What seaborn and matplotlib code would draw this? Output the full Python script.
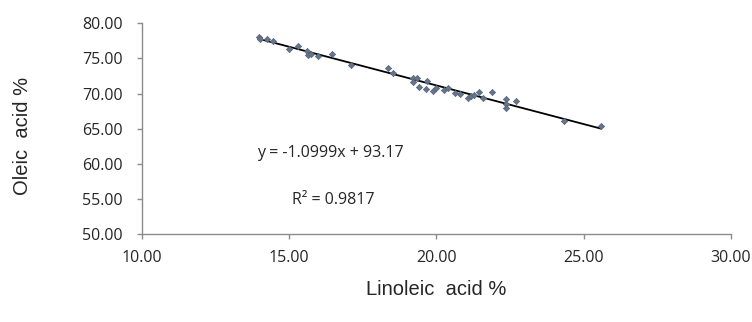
import matplotlib
matplotlib.use("Agg")
import matplotlib.pyplot as plt
import seaborn as sns
import numpy as np
import pandas as pd

linoleic = [13.97, 14.03, 14.25, 14.45, 15.0, 15.31, 15.6, 15.63, 15.73, 15.97, 16.45, 17.11,
            18.37, 18.52, 19.22, 19.33, 19.2, 19.41, 19.66, 19.70, 19.89, 19.98, 20.27, 20.4,
            20.63, 20.8, 21.07, 21.18, 21.29, 21.46, 21.6, 21.89, 22.38, 22.37, 22.38, 22.72,
            24.35, 25.59]
oleic = [78.0, 77.7, 77.8, 77.5, 76.3, 76.8, 76.0, 75.5, 75.7, 75.4, 75.6, 74.1,
         73.7, 72.9, 72.2, 72.25, 71.6, 71.0, 70.6, 71.8, 70.35, 70.8, 70.5, 70.8,
         70.07, 69.9, 69.4, 69.6, 69.8, 70.2, 69.45, 70.2, 69.2, 68.5, 67.9, 68.9,
         66.1, 65.4]
slope = -1.0999
intercept = 93.17
r2 = 0.9817
xticks = [10, 15, 20, 25, 30]
yticks = [50, 55, 60, 65, 70, 75, 80]

df = pd.DataFrame({"Linoleic": linoleic, "Oleic": oleic})

sns.set_style("white")
fig = plt.figure(figsize=(7.52, 3.22), dpi=100)
ax = fig.add_axes([0.1884, 0.2724, 0.7836, 0.6552])

sns.scatterplot(data=df, x="Linoleic", y="Oleic", ax=ax, marker="D", s=10,
                color="#66758a", edgecolor="#56647a", linewidth=0.5, zorder=3)
xl = np.array([min(linoleic), max(linoleic)])
sns.lineplot(x=xl, y=slope * xl + intercept, ax=ax, color="black", linewidth=1.3, zorder=2)

tick_font = dict(fontfamily="Open Sans", fontsize=11.5)
ax.set_xlim(10, 30)
ax.set_ylim(50, 80)
ax.set_xticks(xticks)
ax.set_yticks(yticks)
ax.set_xticklabels([f"{v:.2f}" for v in xticks], **tick_font)
ax.set_yticklabels([f"{v:.2f}" for v in yticks], **tick_font)
for s in ["top", "right"]:
    ax.spines[s].set_visible(False)
for s in ["left", "bottom"]:
    ax.spines[s].set_color("#8c8c8c")
    ax.spines[s].set_linewidth(1.0)
ax.tick_params(axis="both", direction="out", length=3.6, width=1, color="#8c8c8c",
               left=True, bottom=True)
ax.tick_params(axis="x", pad=8)
ax.tick_params(axis="y", pad=10)
ax.set_xlabel("Linoleic  acid %", fontfamily="Liberation Sans", fontsize=14.5, va="center")
ax.set_ylabel("Oleic  acid %", fontfamily="Liberation Sans", fontsize=14.5, va="center")
ax.xaxis.set_label_coords(0.5, -0.264)
ax.yaxis.set_label_coords(-0.203, 0.466)

ax.text(13.9, 61.5, f"y = {slope}x + {intercept}", va="center", ha="left", **tick_font)
ax.text(15.09, 54.85, f"R² = {r2}", va="center", ha="left", **tick_font)

fig.savefig("out.png", dpi=100)
